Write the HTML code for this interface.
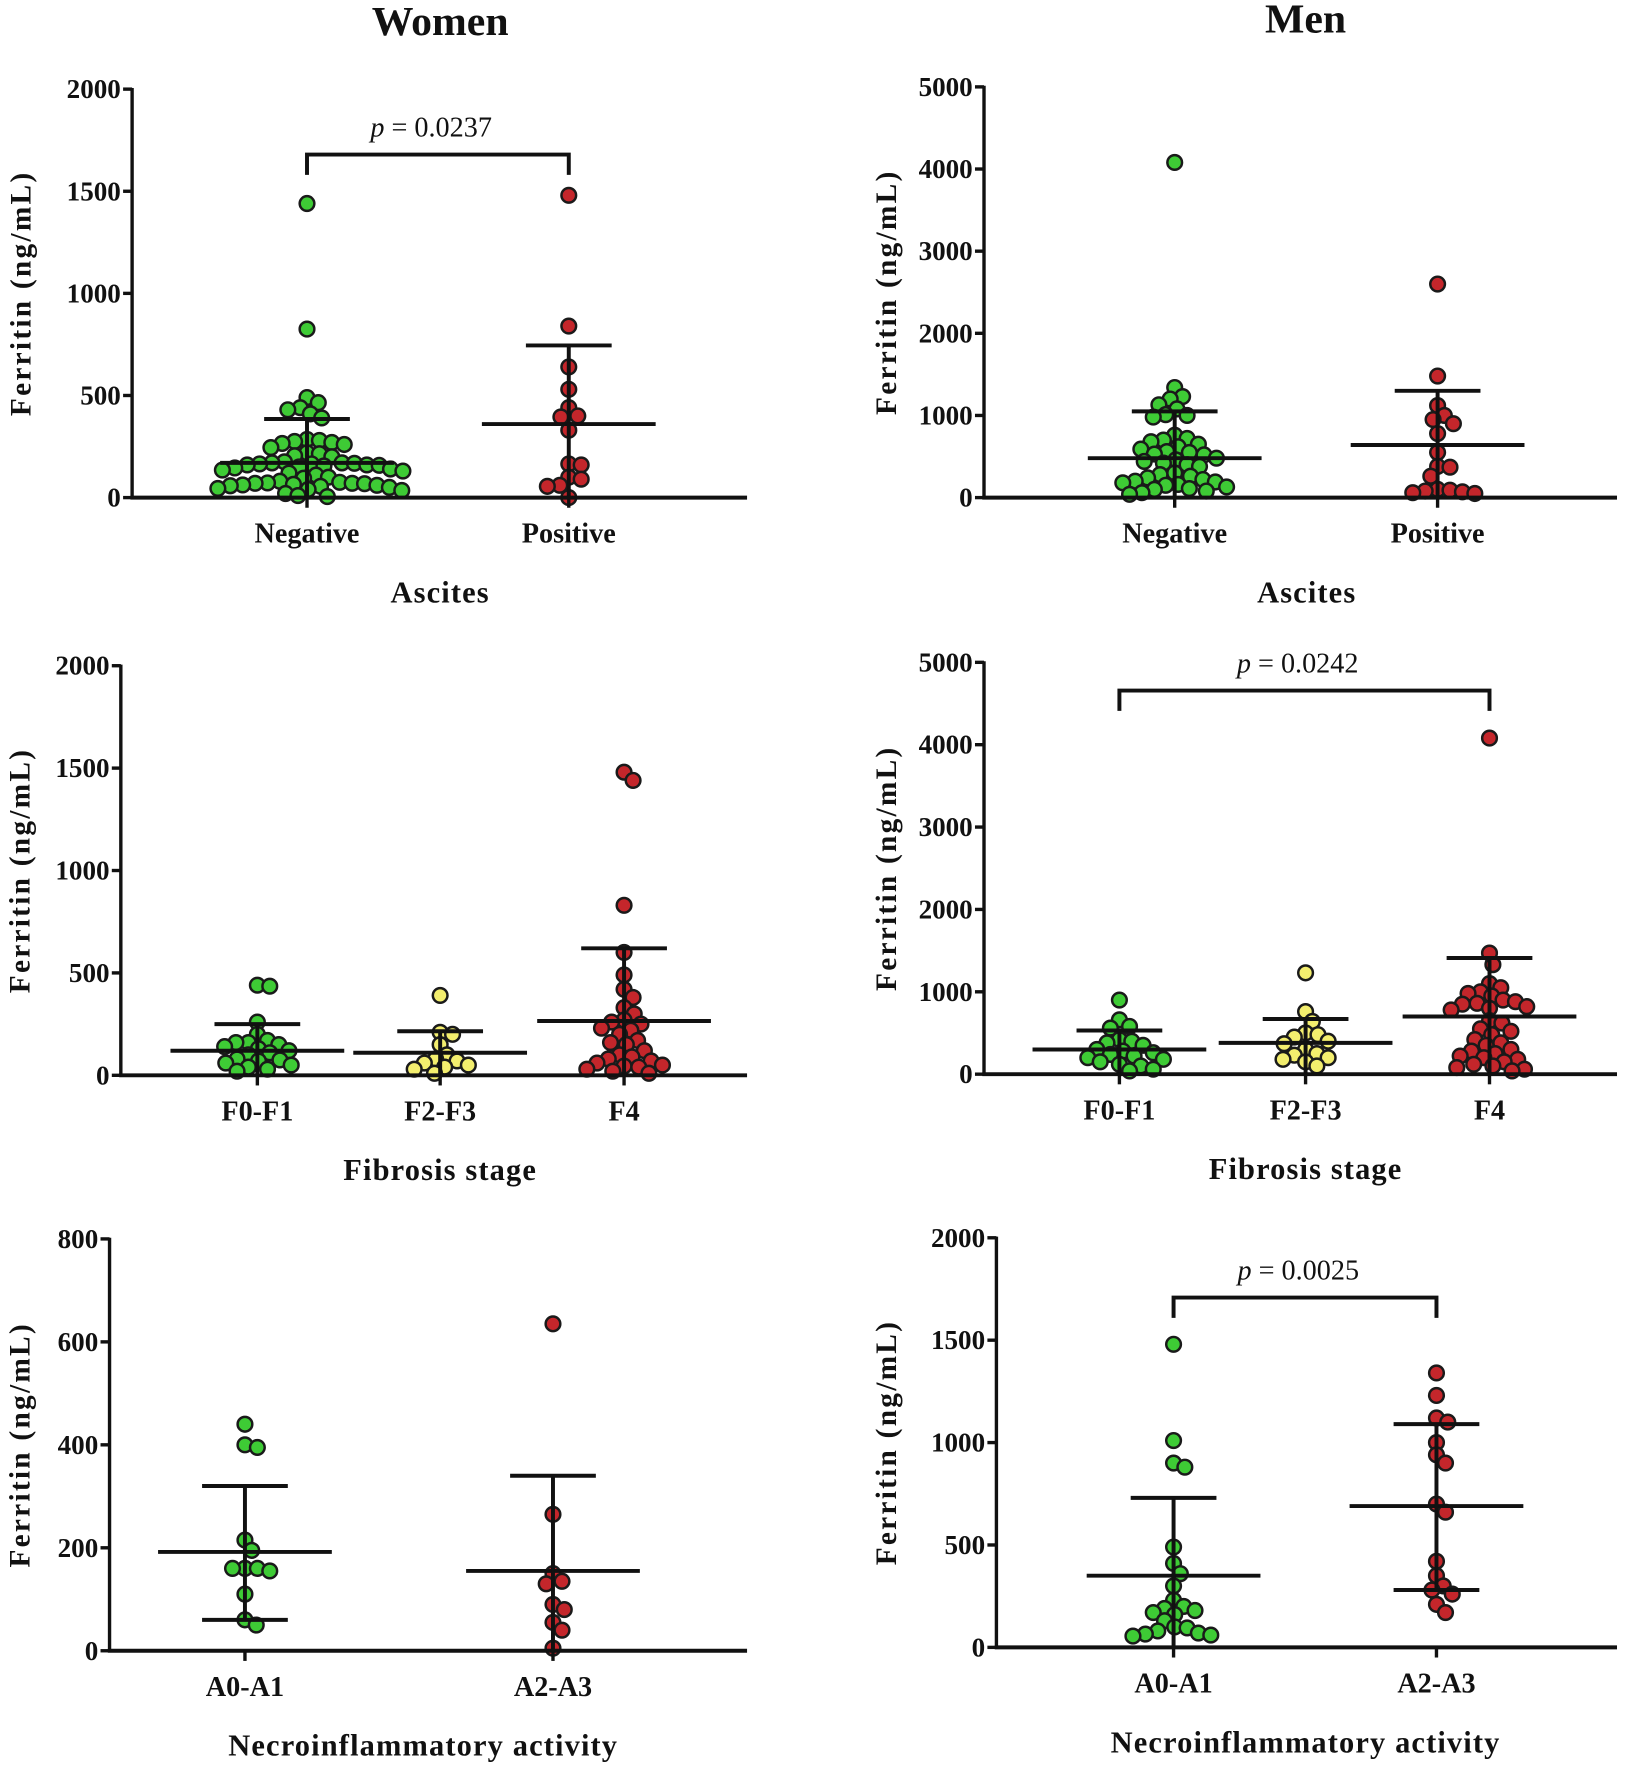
<!DOCTYPE html>
<html><head><meta charset="utf-8">
<style>
html,body{margin:0;padding:0;background:#fff;}
svg{display:block;}
text{font-family:"Liberation Serif","Times New Roman",serif;fill:#111;}
.tick{font-size:24px;font-weight:bold;}
.xt{font-size:25px;font-weight:bold;}
.ttl{font-size:27px;font-weight:bold;letter-spacing:1px;}
.yt{font-size:26px;font-weight:bold;letter-spacing:2px;}
.main{font-size:37px;font-weight:bold;}
.pv{font-size:25px;}
</style></head>
<body>
<svg id="fig" width="1625" height="1776" viewBox="0 0 1440 1574" xmlns="http://www.w3.org/2000/svg">
<text class="main" x="390" y="31" text-anchor="middle">Women</text>
<text class="main" x="1157" y="29" text-anchor="middle">Men</text>
</svg>
<script>
// ---- data ----
const ascCats = ["Negative","Positive"];
const fibCats = ["F0-F1","F2-F3","F4"];
const necCats = ["A0-A1","A2-A3"];

const wAscNeg = [1440,825,490,465,440,430,410,390,285,280,275,270,265,260,245,220,215,205,200,175,170,170,168,165,165,160,160,158,155,150,145,140,135,130,120,110,100,95,80,75,72,70,70,68,65,62,60,58,55,50,45,40,35,20,10,5];
const wAscPos = [1480,840,640,530,440,400,395,330,165,160,100,90,60,55,0];
const wAscMean = [170,360];
const wAscUpper = [385,745];
const wAscLower = [0,0];

const mAscNeg = [4080,1340,1230,1200,1130,1080,1010,1000,980,760,720,700,680,650,620,590,560,550,530,520,480,460,440,420,400,380,300,280,260,240,220,200,190,180,160,150,130,110,100,80,60,40];
const mAscPos = [2600,1480,1120,1000,950,900,780,550,380,370,260,100,90,80,70,60,50];
const mAscMean = [480,640];
const mAscUpper = [1050,1300];
const mAscLower = [0,0];

const wFib0 = [440,435,260,200,170,160,160,150,140,130,120,110,100,80,75,70,60,50,40,30,20];
const wFib2 = [390,210,200,150,100,80,70,60,50,40,30,10];
const wFib4 = [1480,1440,830,600,490,420,380,330,300,270,260,250,230,220,200,170,160,150,120,100,90,80,70,60,50,45,40,30,20,10];
const wFibMean = [120,110,265];
const wFibUpper = [250,215,620];
const wFibLower = [0,0,0];

const mFib0 = [900,660,560,580,420,400,380,350,300,280,260,240,220,200,180,150,120,100,60,40];
const mFib2 = [1230,760,640,500,480,450,400,370,300,250,230,200,180,150,100];
const mFib4 = [4080,1470,1330,1100,1050,1000,980,950,900,880,860,850,820,800,780,650,620,550,520,480,420,380,350,300,280,250,220,200,180,150,120,100,80,60,40];
const mFibMean = [300,380,700];
const mFibUpper = [530,670,1410];
const mFibLower = [0,0,0];

const wNec0 = [440,400,395,215,195,160,160,160,155,110,60,50];
const wNec2 = [635,265,150,135,130,90,80,55,40,5];
const wNecMean = [192,155];
const wNecUpper = [320,340];
const wNecLower = [60,0];

const mNec0 = [1480,1010,900,880,490,410,360,300,230,200,190,180,170,160,130,100,95,80,70,65,60,55];
const mNec2 = [1340,1230,1120,1100,1000,940,900,700,660,420,350,300,280,260,210,170];
const mNecMean = [350,690];
const mNecUpper = [730,1090];
const mNecLower = [0,280];

const wTicks2000 = [0,500,1000,1500,2000];
const mTicks5000 = [0,1000,2000,3000,4000,5000];
const wTicks800 = [0,200,400,600,800];

// ---- drawing ----
const NS = "http://www.w3.org/2000/svg";
const svg = document.getElementById('fig');
const GREEN="#3ecb35", RED="#c4262b", YEL="#f3ee6e";
function mk(tag, attrs, parent){
  const e=document.createElementNS(NS,tag);
  for(const k in attrs) e.setAttribute(k,attrs[k]);
  (parent||svg).appendChild(e); return e;
}
function swarm(vals, cx, yf, d){
  const placed=[]; const out=[];
  const sorted=vals.slice().sort((a,b)=>b-a);
  for(const v of sorted){
    const y=yf(v); let best=null;
    for(let o=0;o<300;o+=1){
      for(const s of (o===0?[0]:[o,-o])){
        const x=cx+s;
        if(placed.every(p=>(p[0]-x)*(p[0]-x)+(p[1]-y)*(p[1]-y)>=d*d)){best=x;break;}
      }
      if(best!==null)break;
    }
    placed.push([best,y]); out.push([best,y]);
  }
  return out;
}
function panel(cfg){
  const g=mk('g',{});
  
  
  const yf=v=>cfg.y0-(v/cfg.ymax)*(cfg.y0-cfg.ytop);
  cfg.groups.forEach((vals,i)=>{
    const cx=cfg.xs[i];
    const pts=swarm(vals,cx,yf,10.5);
    const gg=mk('g',{},g);
    
    
    pts.forEach(p=>{
      const c=mk('circle',{cx:p[0],cy:p[1],r:6.5,fill:cfg.colors[i],stroke:'#1a1a1a','stroke-width':2.2},gg);
      
      
    });
    const m=mk('line',{x1:cx-77,x2:cx+77,y1:yf(cfg.mean[i]),y2:yf(cfg.mean[i]),stroke:'#111','stroke-width':3.5},gg);
    
    
    const v=mk('line',{x1:cx,x2:cx,y1:yf(cfg.upper[i]),y2:yf(cfg.lower[i]),stroke:'#111','stroke-width':3.5},gg);
    
    
    const u=mk('line',{x1:cx-38,x2:cx+38,y1:yf(cfg.upper[i]),y2:yf(cfg.upper[i]),stroke:'#111','stroke-width':3.5},gg);
    
    
    if(cfg.lower[i]>0){
      const l=mk('line',{x1:cx-38,x2:cx+38,y1:yf(cfg.lower[i]),y2:yf(cfg.lower[i]),stroke:'#111','stroke-width':3.5},gg);
      
      
    }
    const t=mk('line',{x1:cx,x2:cx,y1:cfg.y0,y2:cfg.y0+9,stroke:'#111','stroke-width':3},g);
    
    
    const lb=mk('text',{x:cx,y:cfg.y0+40,'text-anchor':'middle',class:'xt'},g);
    lb.textContent=cfg.cats[i];
    
    
  });
  const ya=mk('line',{x1:cfg.ax,x2:cfg.ax,y1:cfg.ytop-1,y2:cfg.y0+1.5,stroke:'#111','stroke-width':3},g);
  
  
  const xa=mk('line',{x1:cfg.ax-1.5,x2:cfg.xend,y1:cfg.y0,y2:cfg.y0,stroke:'#111','stroke-width':3.5},g);
  
  
  cfg.ticks.forEach(tv=>{
    const y=yf(tv);
    const tk=mk('line',{x1:cfg.ax-8,x2:cfg.ax,y1:y,y2:y,stroke:'#111','stroke-width':3},g);
    
    
    const tl=mk('text',{x:cfg.ax-10,y:y+8,'text-anchor':'end',class:'tick'},g);
    tl.textContent=tv;
    
    
  });
  const cy=(cfg.ytop+cfg.y0)/2;
  const yt=mk('text',{x:cfg.ytx,y:cy,'text-anchor':'middle',class:'yt',transform:`rotate(-90 ${cfg.ytx} ${cy})`},g);
  yt.textContent='Ferritin (ng/mL)';
  
  
  const xt=mk('text',{x:cfg.xtx,y:cfg.y0+93,'text-anchor':'middle',class:'ttl'},g);
  xt.textContent=cfg.xtitle;
  
  
  if(cfg.p){
    const [a,b,by,txt]=cfg.p;
    const br=mk('path',{d:`M${cfg.xs[a]} ${by+18} V${by} H${cfg.xs[b]} V${by+18}`,fill:'none',stroke:'#111','stroke-width':3.5},g);
    
    
    const pt=mk('text',{x:(cfg.xs[a]+cfg.xs[b])/2-6,y:by-16,'text-anchor':'middle',class:'pv'},g);
    pt.innerHTML='<tspan font-style="italic">p</tspan> = '+txt;
    
    
  }
}
panel({name:'women-ascites-panel',cats:ascCats,groups:[wAscNeg,wAscPos],mean:wAscMean,upper:wAscUpper,lower:wAscLower,colors:[GREEN,RED],
  ax:117,ytop:79,y0:441,ymax:2000,ticks:wTicks2000,xs:[272,504],xend:662,ytx:27,xtx:390,xtitle:'Ascites',p:[0,1,137,'0.0237']});
panel({name:'men-ascites-panel',cats:ascCats,groups:[mAscNeg,mAscPos],mean:mAscMean,upper:mAscUpper,lower:mAscLower,colors:[GREEN,RED],
  ax:872,ytop:77,y0:441,ymax:5000,ticks:mTicks5000,xs:[1041,1274],xend:1433,ytx:794,xtx:1158,xtitle:'Ascites'});
panel({name:'women-fibrosis-panel',cats:fibCats,groups:[wFib0,wFib2,wFib4],mean:wFibMean,upper:wFibUpper,lower:wFibLower,colors:[GREEN,YEL,RED],
  ax:107,ytop:590,y0:953,ymax:2000,ticks:wTicks2000,xs:[228,390,553],xend:662,ytx:26,xtx:390,xtitle:'Fibrosis stage'});
panel({name:'men-fibrosis-panel',cats:fibCats,groups:[mFib0,mFib2,mFib4],mean:mFibMean,upper:mFibUpper,lower:mFibLower,colors:[GREEN,YEL,RED],
  ax:872,ytop:587,y0:952,ymax:5000,ticks:mTicks5000,xs:[992,1157,1320],xend:1433,ytx:794,xtx:1157,xtitle:'Fibrosis stage',p:[0,2,612,'0.0242']});
panel({name:'women-necro-panel',cats:necCats,groups:[wNec0,wNec2],mean:wNecMean,upper:wNecUpper,lower:wNecLower,colors:[GREEN,RED],
  ax:97,ytop:1098,y0:1463,ymax:800,ticks:wTicks800,xs:[217,490],xend:662,ytx:26,xtx:375,xtitle:'Necroinflammatory activity'});
panel({name:'men-necro-panel',cats:necCats,groups:[mNec0,mNec2],mean:mNecMean,upper:mNecUpper,lower:mNecLower,colors:[GREEN,RED],
  ax:883,ytop:1097,y0:1460,ymax:2000,ticks:wTicks2000,xs:[1040,1273],xend:1433,ytx:794,xtx:1157,xtitle:'Necroinflammatory activity',p:[0,1,1150,'0.0025']});
</script>
</body></html>
